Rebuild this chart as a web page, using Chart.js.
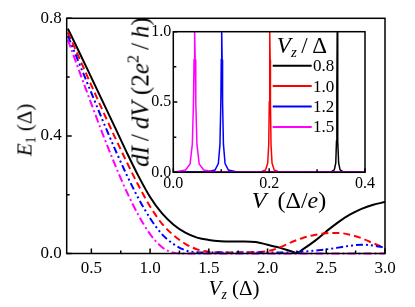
<!DOCTYPE html>
<html>
<head>
<meta charset="utf-8">
<script src="https://cdn.jsdelivr.net/npm/chart.js@4/dist/chart.umd.min.js"></script>
<style>
  body { margin: 0; background: #fff; }
  #wrap { position: relative; width: 415px; height: 307px; font-family: "Liberation Serif", "Times New Roman", serif; color: #000; }
  #wrap canvas { position: absolute; left: 0; top: 0; }
  .lbl { position: absolute; white-space: nowrap; line-height: 1; }
  .rot { transform: translate(-50%, -50%) rotate(-90deg); }
  .ctr { transform: translate(-50%, -50%); }
  i { font-style: italic; }
  sub { font-size: 0.65em; vertical-align: -0.3em; line-height: 0; }
  sup { font-size: 0.65em; vertical-align: 0.6em; line-height: 0; }
</style>
</head>
<body>
<div id="wrap">
  <canvas id="main" width="415" height="307"></canvas>
  <canvas id="inset" width="415" height="307"></canvas>
  <div class="lbl rot" style="left:25px; top:130px; font-size:21px;"><i>E</i><sub>1</sub> (&Delta;)</div>
  <div class="lbl ctr" style="left:234px; top:288px; font-size:21px;"><i>V<sub>z</sub></i> (&Delta;)</div>
  <div class="lbl ctr" style="left:289px; top:200px; font-size:24px;"><i style="margin-right:5px">V</i> (&Delta;/<i>e</i>)</div>
  <div class="lbl rot" style="left:140px; top:92px; font-size:25px;"><i>dI</i>&thinsp;/&thinsp;<i>dV</i> (2<i>e</i><sup>2</sup>&thinsp;/&thinsp;<i>h</i>)</div>
  <div class="lbl ctr" style="left:302px; top:45px; font-size:23px;"><i>V<sub>z</sub></i>&thinsp;/&thinsp;&Delta;</div>
</div>
<script>
// main panel: E1 vs Vz
const vz = [0.3, 0.4, 0.5, 0.6, 0.7, 0.8, 0.9, 1.0, 1.1, 1.2, 1.3, 1.4, 1.5, 1.6, 1.7, 1.8, 1.9, 2.0, 2.1, 2.2, 2.25, 2.3, 2.4, 2.5, 2.6, 2.7, 2.8, 2.9, 3.0];
const e1Black = [0.765, 0.682, 0.598, 0.514, 0.430, 0.345, 0.264, 0.192, 0.137, 0.098, 0.071, 0.054, 0.046, 0.042, 0.041, 0.041, 0.039, 0.030, 0.020, 0.008, 0.002, 0.014, 0.042, 0.075, 0.106, 0.132, 0.152, 0.166, 0.175];
const e1Red = [0.752, 0.662, 0.572, 0.483, 0.396, 0.312, 0.232, 0.160, 0.102, 0.062, 0.033, 0.014, 0.006, 0.004, 0.003, 0.004, 0.005, 0.008, 0.020, 0.038, 0.046, 0.053, 0.063, 0.069, 0.070, 0.064, 0.052, 0.035, 0.018];
const e1Blue = [0.740, 0.643, 0.546, 0.449, 0.356, 0.268, 0.188, 0.120, 0.066, 0.032, 0.011, 0.004, 0.003, 0.003, 0.003, 0.003, 0.003, 0.003, 0.003, 0.003, 0.004, 0.006, 0.010, 0.014, 0.020, 0.026, 0.030, 0.027, 0.020];
const e1Magenta = [0.727, 0.617, 0.509, 0.403, 0.303, 0.211, 0.131, 0.066, 0.022, 0.003, 0, 0, 0, 0, 0, 0, 0, 0, 0, 0, 0, 0, 0, 0, 0, 0, 0, 0, 0];
const mainXTicks = [0.5, 1.0, 1.5, 2.0, 2.5, 3.0];
const mainYTicks = [0.0, 0.4, 0.8];

// inset: dI/dV vs V, one peak per Vz
const insetLabels = ['0.8', '1.0', '1.2', '1.5'];
const vBlack = [0, 0.33, 0.336, 0.339, 0.3405, 0.3413, 0.342, 0.3427, 0.3435, 0.345, 0.348, 0.354, 0.4];
const gBlack = [0, 0.004, 0.017, 0.066, 0.22, 0.6, 1.0, 0.6, 0.22, 0.066, 0.017, 0.004, 0];
const vRed = [0, 0.1835, 0.1925, 0.197, 0.1991, 0.2003, 0.2009, 0.2015, 0.2021, 0.2027, 0.2039, 0.206, 0.2105, 0.2195, 0.4];
const gRed = [0, 0.004, 0.017, 0.066, 0.2, 0.5, 0.8, 1.0, 0.8, 0.5, 0.2, 0.066, 0.017, 0.004, 0];
const vBlue = [0, 0.071, 0.087, 0.094, 0.0974, 0.0992, 0.1001, 0.101, 0.1019, 0.1028, 0.1046, 0.108, 0.115, 0.131, 0.4];
const gBlue = [0, 0.0036, 0.016, 0.062, 0.2, 0.5, 0.8, 1.0, 0.8, 0.5, 0.2, 0.062, 0.016, 0.0036, 0];
const vMagenta = [0, 0.0055, 0.0255, 0.035, 0.0397, 0.0421, 0.0433, 0.0445, 0.0457, 0.0469, 0.0493, 0.054, 0.0635, 0.0845, 0.4];
const gMagenta = [0.003, 0.004, 0.016, 0.06, 0.2, 0.5, 0.8, 1.0, 0.8, 0.5, 0.2, 0.06, 0.016, 0.004, 0];
const insetXTicks = [0.0, 0.2, 0.4];
const insetYTicks = [0.0, 0.5, 1.0];

const SERIF = '"Liberation Serif", "Times New Roman", serif';
const colors = { black: '#000000', red: '#ff0000', blue: '#0000ff', magenta: '#ff00ff' };

const pts = (xs, ys) => xs.map((x, i) => ({ x: x, y: ys[i] }));

// box frame + inward ticks
const frameTicks = {
    id: 'frameTicks',
    afterDraw(chart, args, o) {
        const { ctx, chartArea: a } = chart;
        const sx = chart.scales.x, sy = chart.scales.y;
        ctx.save();
        ctx.strokeStyle = '#000';
        ctx.lineWidth = o.lineWidth;
        ctx.strokeRect(a.left, a.top, a.right - a.left, a.bottom - a.top);
        ctx.beginPath();
        const tx = (v, len) => { const p = sx.getPixelForValue(v); ctx.moveTo(p, a.bottom); ctx.lineTo(p, a.bottom - len); };
        const ty = (v, len) => { const p = sy.getPixelForValue(v); ctx.moveTo(a.left, p); ctx.lineTo(a.left + len, p); };
        o.xMajor.forEach(v => tx(v, o.major));
        o.xMinor.forEach(v => tx(v, o.minor));
        o.yMajor.forEach(v => ty(v, o.major));
        o.yMinor.forEach(v => ty(v, o.minor));
        ctx.stroke();
        ctx.restore();
    }
};

// legend inside the inset
const insetLegend = {
    id: 'insetLegend',
    afterDraw(chart, args, o) {
        const ctx = chart.ctx;
        ctx.save();
        ctx.font = o.font;
        ctx.textBaseline = 'middle';
        ctx.fillStyle = '#000';
        chart.data.datasets.forEach((ds, i) => {
            const y = o.top + i * o.step;
            ctx.strokeStyle = ds.borderColor;
            ctx.lineWidth = 2;
            ctx.beginPath();
            ctx.moveTo(o.x0, y);
            ctx.lineTo(o.x1, y);
            ctx.stroke();
            ctx.fillText(ds.label, o.tx, y + 1);
        });
        ctx.restore();
    }
};

function fixedAxis(size, horizontal) {
    return (scale) => { if (horizontal) scale.height = size; else scale.width = size; };
}

new Chart(document.getElementById('main').getContext('2d'), {
    type: 'line',
    data: {
        datasets: [
            { label: 'black', data: pts(vz, e1Black), borderColor: colors.black, borderWidth: 2, order: 3 },
            { label: 'red', data: pts(vz, e1Red), borderColor: colors.red, borderWidth: 2, borderDash: [7, 4], order: 2 },
            { label: 'blue', data: pts(vz, e1Blue), borderColor: colors.blue, borderWidth: 2, borderDash: [7, 3, 2, 3, 2, 3], order: 1 },
            { label: 'magenta', data: pts(vz, e1Magenta), borderColor: colors.magenta, borderWidth: 2, borderDash: [8, 3, 2, 3], order: 0 }
        ]
    },
    options: {
        responsive: false,
        animation: false,
        events: [],
        layout: { padding: { left: 0, top: 18.3, right: 30, bottom: 0 } },
        elements: { point: { radius: 0 }, line: { cubicInterpolationMode: 'monotone', fill: false } },
        datasets: { line: { clip: 3 } },
        plugins: {
            legend: { display: false },
            tooltip: { enabled: false },
            frameTicks: {
                lineWidth: 1.5, major: 5, minor: 3,
                xMajor: mainXTicks, xMinor: [0.75, 1.25, 1.75, 2.25, 2.75],
                yMajor: mainYTicks, yMinor: [0.2, 0.6]
            }
        },
        scales: {
            x: {
                type: 'linear', min: 0.29, max: 3.0,
                afterFit: fixedAxis(53.5, true),
                afterBuildTicks: (s) => { s.ticks = mainXTicks.map(v => ({ value: v })); },
                grid: { display: false, drawTicks: false },
                border: { display: false },
                ticks: { padding: 5, color: '#000', font: { family: SERIF, size: 17 }, maxRotation: 0, callback: (v) => v.toFixed(1) }
            },
            y: {
                type: 'linear', min: 0, max: 0.8,
                afterFit: fixedAxis(66.7, false),
                afterBuildTicks: (s) => { s.ticks = mainYTicks.map(v => ({ value: v })); },
                grid: { display: false, drawTicks: false },
                border: { display: false },
                ticks: { padding: 5, color: '#000', font: { family: SERIF, size: 17 }, callback: (v) => v.toFixed(1) }
            }
        }
    },
    plugins: [frameTicks]
});

new Chart(document.getElementById('inset').getContext('2d'), {
    type: 'line',
    data: {
        datasets: [
            { label: insetLabels[0], data: pts(vBlack, gBlack), borderColor: colors.black, order: 3 },
            { label: insetLabels[1], data: pts(vRed, gRed), borderColor: colors.red, order: 2 },
            { label: insetLabels[2], data: pts(vBlue, gBlue), borderColor: colors.blue, order: 1 },
            { label: insetLabels[3], data: pts(vMagenta, gMagenta), borderColor: colors.magenta, order: 0 }
        ]
    },
    options: {
        responsive: false,
        animation: false,
        events: [],
        layout: { padding: { left: 143.3, top: 31.7, right: 50, bottom: 114.7 } },
        elements: { point: { radius: 0 }, line: { tension: 0, borderWidth: 1.5, fill: false } },
        datasets: { line: { clip: 2 } },
        plugins: {
            legend: { display: false },
            tooltip: { enabled: false },
            frameTicks: {
                lineWidth: 1.5, major: 4, minor: 3,
                xMajor: insetXTicks, xMinor: [0.1, 0.3],
                yMajor: insetYTicks, yMinor: [0.25, 0.75]
            },
            insetLegend: { font: '17px ' + SERIF, x0: 272.7, x1: 311.7, tx: 313, top: 65.7, step: 20.4 }
        },
        scales: {
            x: {
                type: 'linear', min: 0, max: 0.4,
                afterFit: fixedAxis(20, true),
                afterBuildTicks: (s) => { s.ticks = insetXTicks.map(v => ({ value: v })); },
                grid: { display: false, drawTicks: false },
                border: { display: false },
                ticks: { padding: 2, color: '#000', font: { family: SERIF, size: 16 }, maxRotation: 0, callback: (v) => v.toFixed(1) }
            },
            y: {
                type: 'linear', min: 0, max: 1.0,
                afterFit: fixedAxis(30, false),
                afterBuildTicks: (s) => { s.ticks = insetYTicks.map(v => ({ value: v })); },
                grid: { display: false, drawTicks: false },
                border: { display: false },
                ticks: { padding: 2, color: '#000', font: { family: SERIF, size: 16 }, callback: (v) => v.toFixed(1) }
            }
        }
    },
    plugins: [frameTicks, insetLegend]
});
</script>
</body>
</html>
